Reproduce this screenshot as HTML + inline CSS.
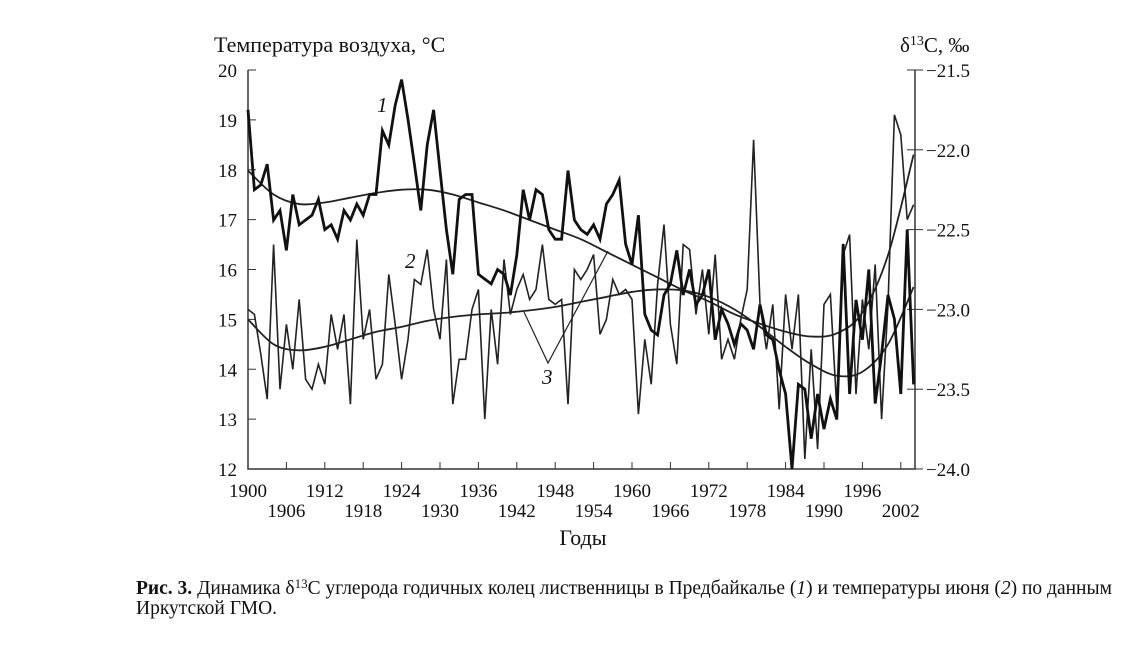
<!DOCTYPE html>
<html><head><meta charset="utf-8"><style>
body{margin:0;background:#fff}
svg text{font-family:"Liberation Serif","DejaVu Serif",serif;fill:#111}
</style></head><body>
<svg id="chart" width="1146" height="650" xmlns="http://www.w3.org/2000/svg"></svg>
<script>
const years=[];for(let y=1900;y<=2004;y++)years.push(y);
const d13C=[-21.75,-22.25,-22.22,-22.09,-22.44,-22.38,-22.63,-22.28,-22.47,-22.44,-22.41,-22.31,-22.50,-22.47,-22.56,-22.38,-22.44,-22.34,-22.41,-22.28,-22.28,-21.88,-21.97,-21.72,-21.56,-21.81,-22.09,-22.38,-21.97,-21.75,-22.13,-22.50,-22.78,-22.31,-22.28,-22.28,-22.78,-22.81,-22.84,-22.75,-22.78,-22.91,-22.66,-22.25,-22.44,-22.25,-22.28,-22.50,-22.56,-22.56,-22.13,-22.44,-22.50,-22.53,-22.47,-22.56,-22.34,-22.28,-22.19,-22.59,-22.72,-22.41,-23.03,-23.13,-23.16,-22.91,-22.84,-22.63,-22.91,-22.75,-22.97,-22.91,-22.75,-23.19,-23.00,-23.09,-23.22,-23.09,-23.13,-23.25,-22.97,-23.16,-23.19,-23.38,-23.53,-24.00,-23.47,-23.50,-23.81,-23.53,-23.75,-23.56,-23.69,-22.59,-23.53,-22.94,-23.19,-22.75,-23.59,-23.28,-22.91,-23.06,-23.53,-22.50,-23.47];
const temp=[15.2,15.1,14.3,13.4,16.5,13.6,14.9,14.0,15.4,13.8,13.6,14.1,13.7,15.1,14.4,15.1,13.3,16.6,14.6,15.2,13.8,14.1,15.9,14.9,13.8,14.6,15.8,15.7,16.4,15.2,14.6,16.2,13.3,14.2,14.2,15.2,15.6,13.0,15.2,14.1,16.2,15.1,15.6,15.9,15.4,15.6,16.5,15.4,15.3,15.4,13.3,16.0,15.8,16.0,16.3,14.7,15.0,15.8,15.5,15.6,15.4,13.1,14.6,13.7,15.7,16.9,14.9,14.1,16.5,16.4,15.1,16.0,14.7,16.3,14.2,14.6,14.2,15.0,15.6,18.6,15.3,14.4,15.3,13.2,15.5,14.4,15.5,12.2,14.4,12.4,15.3,15.5,13.2,16.3,16.7,13.5,15.4,14.4,16.1,13.0,15.3,19.1,18.7,17.0,17.3];
const trendYears=[1900,1904,1908,1912,1916,1920,1924,1928,1932,1936,1940,1944,1948,1952,1956,1960,1964,1968,1972,1976,1980,1984,1988,1992,1996,2000,2004];
const d13CTrend=[-22.13,-22.28,-22.34,-22.33,-22.30,-22.27,-22.25,-22.25,-22.28,-22.33,-22.38,-22.44,-22.50,-22.56,-22.64,-22.72,-22.80,-22.88,-22.95,-23.03,-23.09,-23.14,-23.17,-23.15,-23.02,-22.66,-22.03];
const tempTrend=[15.0,14.5,14.38,14.45,14.6,14.75,14.85,14.97,15.05,15.1,15.13,15.18,15.25,15.35,15.45,15.55,15.6,15.58,15.45,15.2,14.85,14.45,14.1,13.87,13.95,14.5,15.65];
const leftTicks=[12,13,14,15,16,17,18,19,20];
const rightTicks=[-21.5,-22.0,-22.5,-23.0,-23.5,-24.0];
const xTickLabels=[1900,1906,1912,1918,1924,1930,1936,1942,1948,1954,1960,1966,1972,1978,1984,1990,1996,2002];

const NS="http://www.w3.org/2000/svg",svg=document.getElementById('chart');
const X0=248,X1=915,Y0=469,Y1=70;
const x=y=>X0+(y-1900)*6.4;
const yl=v=>Y0-(v-12)*(Y0-Y1)/8;
const yr=v=>Y0-(v+24)*(Y0-Y1)/2.5;
function el(t,a,p){const e=document.createElementNS(NS,t);for(const k in a)e.setAttribute(k,a[k]);(p||svg).appendChild(e);return e;}
function txt(s,xx,yy,a){const e=el('text',Object.assign({x:xx,y:yy,'font-size':19},a||{}));e.textContent=s;return e;}
function smooth(pts){let d='M'+pts[0][0]+','+pts[0][1];for(let i=0;i<pts.length-1;i++){const p0=pts[Math.max(0,i-1)],p1=pts[i],p2=pts[i+1],p3=pts[Math.min(pts.length-1,i+2)];d+=' C'+(p1[0]+(p2[0]-p0[0])/6)+','+(p1[1]+(p2[1]-p0[1])/6)+' '+(p2[0]-(p3[0]-p1[0])/6)+','+(p2[1]-(p3[1]-p1[1])/6)+' '+p2[0]+','+p2[1];}return d;}

let a=el('path',{d:`M${X0},${Y1} V${Y0} H${X1} V${Y1}`,fill:'none',stroke:'#333','stroke-width':1.5});

leftTicks.forEach(v=>{const t=el('line',{x1:X0,x2:X0+8,y1:yl(v),y2:yl(v),stroke:'#333'});
const l=txt(String(v),237,yl(v)+7,{'text-anchor':'end'});});
rightTicks.forEach(v=>{const t=el('line',{x1:X1-8,x2:X1+8,y1:yr(v),y2:yr(v),stroke:'#333'});
const l=txt('−'+Math.abs(v).toFixed(1),926,yr(v)+7);});
xTickLabels.forEach((v,i)=>{const t=el('line',{x1:x(v),x2:x(v),y1:Y0,y2:Y0-7,stroke:'#333'});
const l=txt(String(v),x(v),i%2?517:497,{'text-anchor':'middle'});});

let p=el('path',{d:smooth(trendYears.map((y,i)=>[x(y),yr(d13CTrend[i])])),fill:'none',stroke:'#222','stroke-width':1.8});

p=el('path',{d:smooth(trendYears.map((y,i)=>[x(y),yl(tempTrend[i])])),fill:'none',stroke:'#222','stroke-width':1.8});

p=el('polyline',{points:years.map((y,i)=>x(y)+','+yl(temp[i])).join(' '),fill:'none',stroke:'#222','stroke-width':1.6});

p=el('polyline',{points:years.map((y,i)=>x(y)+','+yr(d13C[i])).join(' '),fill:'none',stroke:'#111','stroke-width':2.8,'stroke-linejoin':'miter'});


p=el('polyline',{points:'524,312 548,363 608,251',fill:'none',stroke:'#222','stroke-width':1.2});

let t=txt('1',377,112,{'font-style':'italic','font-size':21});
t=txt('2',405,268,{'font-style':'italic','font-size':21});
t=txt('3',542,384,{'font-style':'italic','font-size':21});
t=txt('Температура воздуха, °C',214,52,{'font-size':22});
t=el('text',{x:900,y:52,'font-size':21});t.innerHTML='δ<tspan dy="-7" font-size="14">13</tspan><tspan dy="7">C, ‰</tspan>';
t=txt('Годы',583,545,{'text-anchor':'middle','font-size':22});
t=el('text',{x:136,y:594,'font-size':19.5});t.innerHTML='<tspan font-weight="bold">Рис. 3.</tspan> Динамика δ<tspan dy="-6" font-size="13">13</tspan><tspan dy="6">C углерода годичных колец лиственницы в Предбайкалье (</tspan><tspan font-style="italic">1</tspan>) и температуры июня (<tspan font-style="italic">2</tspan>) по данным';

t=txt('Иркутской ГМО.',136,614,{'font-size':19.5});
</script>
</body></html>
